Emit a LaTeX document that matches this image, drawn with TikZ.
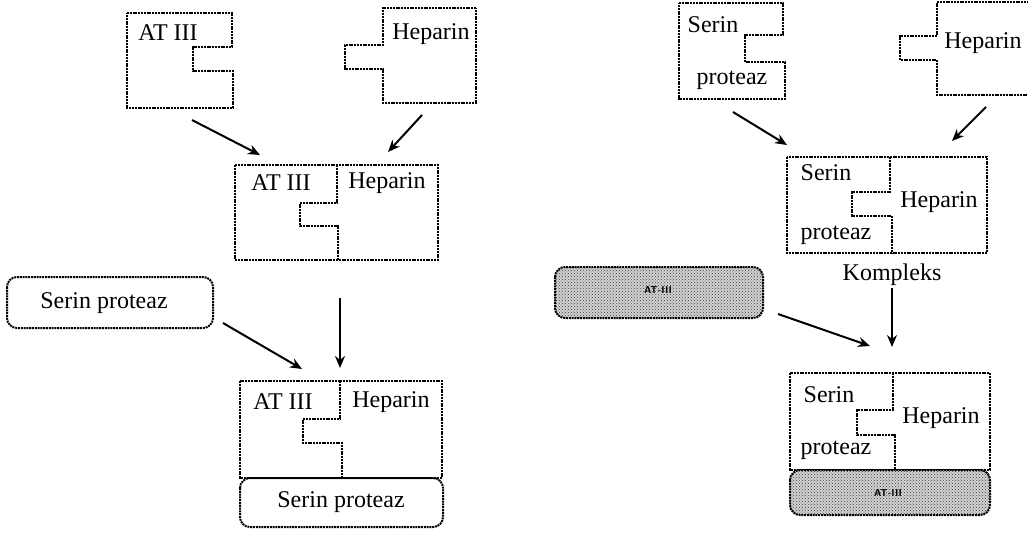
\documentclass[tikz,border=0pt]{standalone}
\usepackage{fontspec}
\setmainfont{Liberation Serif}
\usetikzlibrary{arrows.meta,patterns}
\begin{document}
\begin{tikzpicture}[x=1pt,y=-1pt,
  dotline/.style={line width=2pt,dash pattern=on 2pt off 0.8pt},
  lbl/.style={font=\fontsize{24}{26}\selectfont,inner sep=0pt},
  small/.style={font=\sffamily\bfseries\fontsize{10}{11}\selectfont,inner sep=0pt},
  arr/.style={line width=2pt,-{Stealth[length=12pt,width=10pt]}},
  rbox/.style={dotline,rounded corners=10pt},
  gbox/.style={dotline,rounded corners=10pt,preaction={fill=gray!35},pattern=crosshatch dots,pattern color=black!75}]
\useasboundingbox (0,0) rectangle (1028,533);
% ---------------- left column ----------------
% AT III piece
\draw[dotline] (127,13) -- (232,13) -- (232,47) -- (193,47) -- (193,71) -- (233,71) -- (233,108) -- (127,108) -- cycle;
\node[lbl] (atA) at (168,33) {AT III};
% Heparin piece
\draw[dotline] (476,8) -- (383,8) -- (383,45) -- (345,45) -- (345,69) -- (383,69) -- (383,103) -- (476,103) -- cycle;
\node[lbl] (hepA) at (431,34) {Heparin};
% middle complex
\draw[dotline] (235,165) rectangle (438,260);
\draw[dotline] (337,165) -- (337,203) -- (300,203) -- (300,226) -- (338,226) -- (338,260);
\node[lbl] (atB) at (281,183) {AT III};
\node[lbl] (hepB) at (387,183) {Heparin};
% serin proteaz free
\draw[rbox] (7,277) rectangle (213,328);
\node[lbl] (spA) at (104,303) {Serin proteaz};
% lower complex
\draw[dotline] (240,381) rectangle (442,478);
\draw[dotline] (340,381) -- (340,419) -- (303,419) -- (303,443) -- (342,443) -- (342,478);
\node[lbl] (atC) at (283,402) {AT III};
\node[lbl] (hepC) at (391,402) {Heparin};
\draw[rbox] (240,478) rectangle (443,527);
\node[lbl] (spB) at (341,502) {Serin proteaz};
% arrows left
\coordinate (a1s) at (192,120); \coordinate (a1e) at (260,155);
\coordinate (a2s) at (422,115); \coordinate (a2e) at (388,152);
\coordinate (a3s) at (340,298); \coordinate (a3e) at (340,368);
\coordinate (a4s) at (223,323); \coordinate (a4e) at (302,369);
\draw[arr] (a1s) -- (a1e);
\draw[arr] (a2s) -- (a2e);
\draw[arr,line width=1.5pt] (a3s) -- (a3e);
\draw[arr] (a4s) -- (a4e);
% ---------------- right column ----------------
% Serin proteaz piece
\draw[dotline] (679,3) -- (783,3) -- (783,35) -- (745,35) -- (745,62) -- (785,62) -- (785,99) -- (679,99) -- cycle;
\node[lbl] (spR1) at (713,25) {Serin};
\node[lbl] (spR2) at (732,80) {proteaz};
% Heparin piece (cut by right edge)
\draw[dotline] (1040,2) -- (937,2) -- (937,36) -- (900,36) -- (900,60) -- (937,60) -- (937,95) -- (1040,95);
\node[lbl] (hepR) at (983,43) {Heparin};
% Kompleks
\draw[dotline] (787,157) rectangle (987,253);
\draw[dotline] (890,157) -- (890,192) -- (852,192) -- (852,216) -- (892,216) -- (892,253);
\node[lbl] (spK1) at (826,173) {Serin};
\node[lbl] (hepK) at (939,202) {Heparin};
\node[lbl] (spK2) at (836,235) {proteaz};
\node[lbl] (komp) at (892,275) {Kompleks};
% AT-III free
\draw[gbox] (555,267) rectangle (763,318);
\node[small] (atR) at (658,290) {AT-III};
% final complex
\draw[dotline] (790,373) rectangle (990,470);
\draw[dotline] (893,373) -- (893,410) -- (857,410) -- (857,435) -- (895,435) -- (895,470);
\node[lbl] (spF1) at (829,395) {Serin};
\node[lbl] (hepF) at (941,418) {Heparin};
\node[lbl] (spF2) at (836,450) {proteaz};
\draw[gbox] (790,470) rectangle (990,515);
\node[small] (atF) at (888,493) {AT-III};
% arrows right
\coordinate (b1s) at (733,112); \coordinate (b1e) at (787,145);
\coordinate (b2s) at (986,107); \coordinate (b2e) at (952,141);
\coordinate (b3s) at (892,288); \coordinate (b3e) at (892,347);
\coordinate (b4s) at (778,314); \coordinate (b4e) at (870,346);
\draw[arr] (b1s) -- (b1e);
\draw[arr] (b2s) -- (b2e);
\draw[arr,line width=1.5pt] (b3s) -- (b3e);
\draw[arr] (b4s) -- (b4e);
\end{tikzpicture}
\end{document}
